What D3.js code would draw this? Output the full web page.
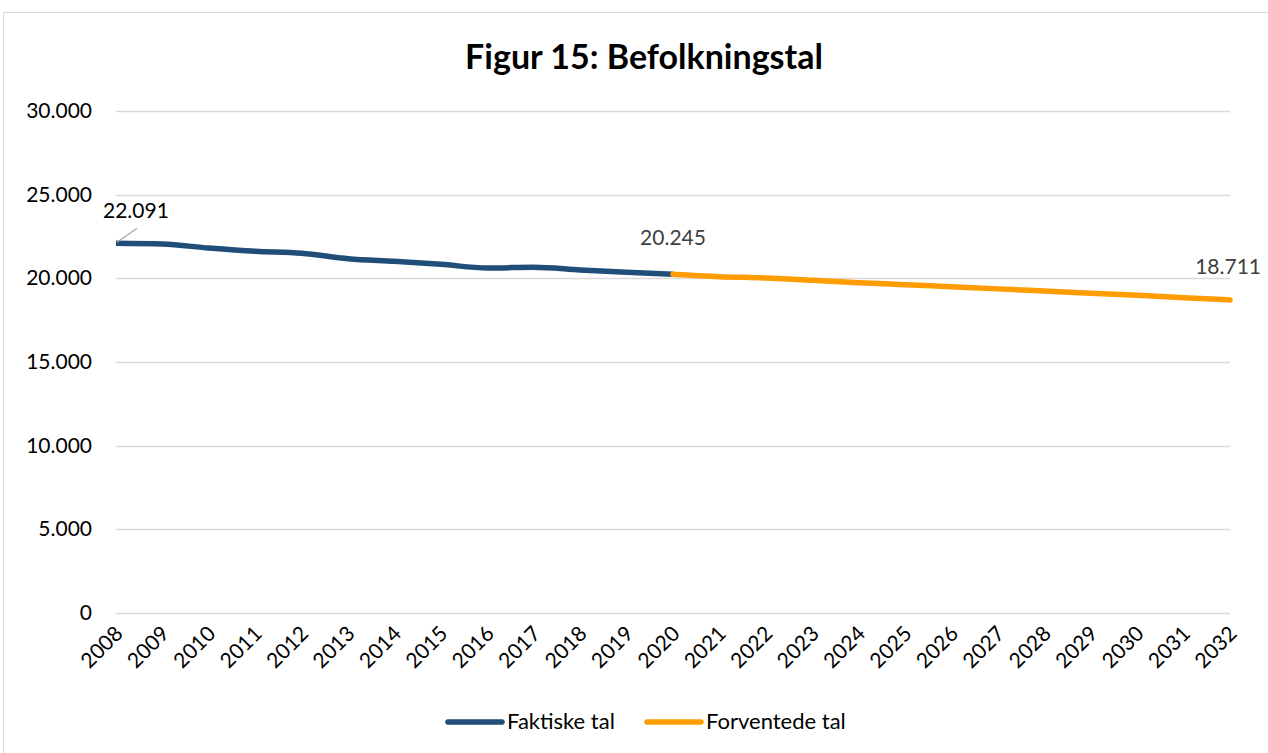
<!DOCTYPE html>
<html>
<head>
<meta charset="utf-8">
<script src="https://cdn.jsdelivr.net/npm/d3@7"></script>
<style>
  body { margin: 0; background: #fff; }
  svg text { font-family: Lato, "Open Sans", sans-serif; }
</style>
</head>
<body>
<div id="chart"></div>
<script>
var years = d3.range(2008, 2033);

var faktiske_years  = d3.range(2008, 2021);
var faktiske_values = [22091, 22050, 21810, 21615, 21495, 21175, 21015, 20840, 20620, 20660, 20500, 20360, 20245];

var forventede_years  = d3.range(2020, 2033);
var forventede_values = [20245, 20100, 20020, 19880, 19740, 19620, 19490, 19370, 19240, 19110, 18990, 18840, 18711];

var y_ticks = [0, 5000, 10000, 15000, 20000, 25000, 30000];

var series_names  = ['Faktiske tal', 'Forventede tal'];
var series_colors = ['#1f4e79', '#ff9c00'];

var W = 1268, H = 753;
var margin = { left: 116, right: 38, top: 111, bottom: 140 };

var svg = d3.select('#chart').append('svg')
  .attr('width', W)
  .attr('height', H);

// chart frame
svg.append('rect')
  .attr('x', 3.5).attr('y', 12.5)
  .attr('width', W + 10).attr('height', H + 10)
  .attr('fill', 'none')
  .attr('stroke', '#d9d9d9');

var x = d3.scalePoint()
  .domain(years)
  .range([margin.left, W - margin.right]);

var y = d3.scaleLinear()
  .domain([0, 30000])
  .range([H - margin.bottom, margin.top]);

var dk = d3.formatLocale({ decimal: ',', thousands: '.', grouping: [3], currency: ['', ' kr.'] });
var fmt = dk.format(',.0f');

svg.append('text')
  .attr('x', 644).attr('y', 69)
  .attr('text-anchor', 'middle')
  .style('font-size', '34px')
  .style('font-weight', 'bold')
  .attr('fill', '#000')
  .text('Figur 15: Befolkningstal');

// gridlines + y labels
var grid = svg.append('g');
y_ticks.forEach(function(t) {
  grid.append('line')
    .attr('x1', x(2008)).attr('x2', x(2032))
    .attr('y1', Math.round(y(t)) + 0.5).attr('y2', Math.round(y(t)) + 0.5)
    .attr('stroke', '#d9d9d9')
    .attr('stroke-width', 1.5);
  grid.append('text')
    .attr('x', 92).attr('y', y(t) + 7)
    .attr('text-anchor', 'end')
    .style('font-size', '21px')
    .attr('fill', '#000')
    .text(fmt(t));
});

// x labels
svg.append('g').selectAll('text')
  .data(years).enter()
  .append('text')
  .attr('transform', (d) => `translate(${x(d) + 8},${y(0) + 22}) rotate(-45)`)
  .attr('text-anchor', 'end')
  .style('font-size', '21px')
  .attr('fill', '#000')
  .text((d) => d);

var line = d3.line()
  .x((d) => x(d[0]))
  .y((d) => y(d[1]))
  .curve(d3.curveMonotoneX);

var sets = [
  d3.zip(faktiske_years, faktiske_values),
  d3.zip(forventede_years, forventede_values)
];

sets.forEach(function(s, i) {
  svg.append('path')
    .datum(s)
    .attr('d', line)
    .attr('fill', 'none')
    .attr('stroke', series_colors[i])
    .attr('stroke-width', 5.5)
    .attr('stroke-linecap', i === 1 ? 'round' : 'butt');
});

// data labels
var first = sets[0][0];
svg.append('line')
  .attr('x1', x(first[0]) + 1).attr('y1', y(first[1]) - 1)
  .attr('x2', x(first[0]) + 21).attr('y2', y(first[1]) - 15)
  .attr('stroke', '#a6a6a6')
  .attr('stroke-width', 1.2);
svg.append('text')
  .attr('x', x(first[0]) - 13).attr('y', y(first[1]) - 25)
  .style('font-size', '21px')
  .attr('fill', '#000')
  .text(fmt(first[1]));

var mid = sets[0][sets[0].length - 1];
svg.append('text')
  .attr('x', x(mid[0])).attr('y', y(mid[1]) - 29)
  .attr('text-anchor', 'middle')
  .style('font-size', '21px')
  .attr('fill', '#404040')
  .text(fmt(mid[1]));

var last = sets[1][sets[1].length - 1];
svg.append('text')
  .attr('x', x(last[0]) + 31).attr('y', y(last[1]) - 26)
  .attr('text-anchor', 'end')
  .style('font-size', '21px')
  .attr('fill', '#404040')
  .text(fmt(last[1]));

// legend
var legend = svg.append('g');
var lx = [448, 647];
series_names.forEach(function(n, i) {
  legend.append('line')
    .attr('x1', lx[i]).attr('x2', lx[i] + 54)
    .attr('y1', 722).attr('y2', 722)
    .attr('stroke', series_colors[i])
    .attr('stroke-width', 5.5)
    .attr('stroke-linecap', 'round');
  legend.append('text')
    .attr('x', lx[i] + 59).attr('y', 729)
    .style('font-size', '22px')
    .attr('fill', '#000')
    .text(n);
});
</script>
</body>
</html>
